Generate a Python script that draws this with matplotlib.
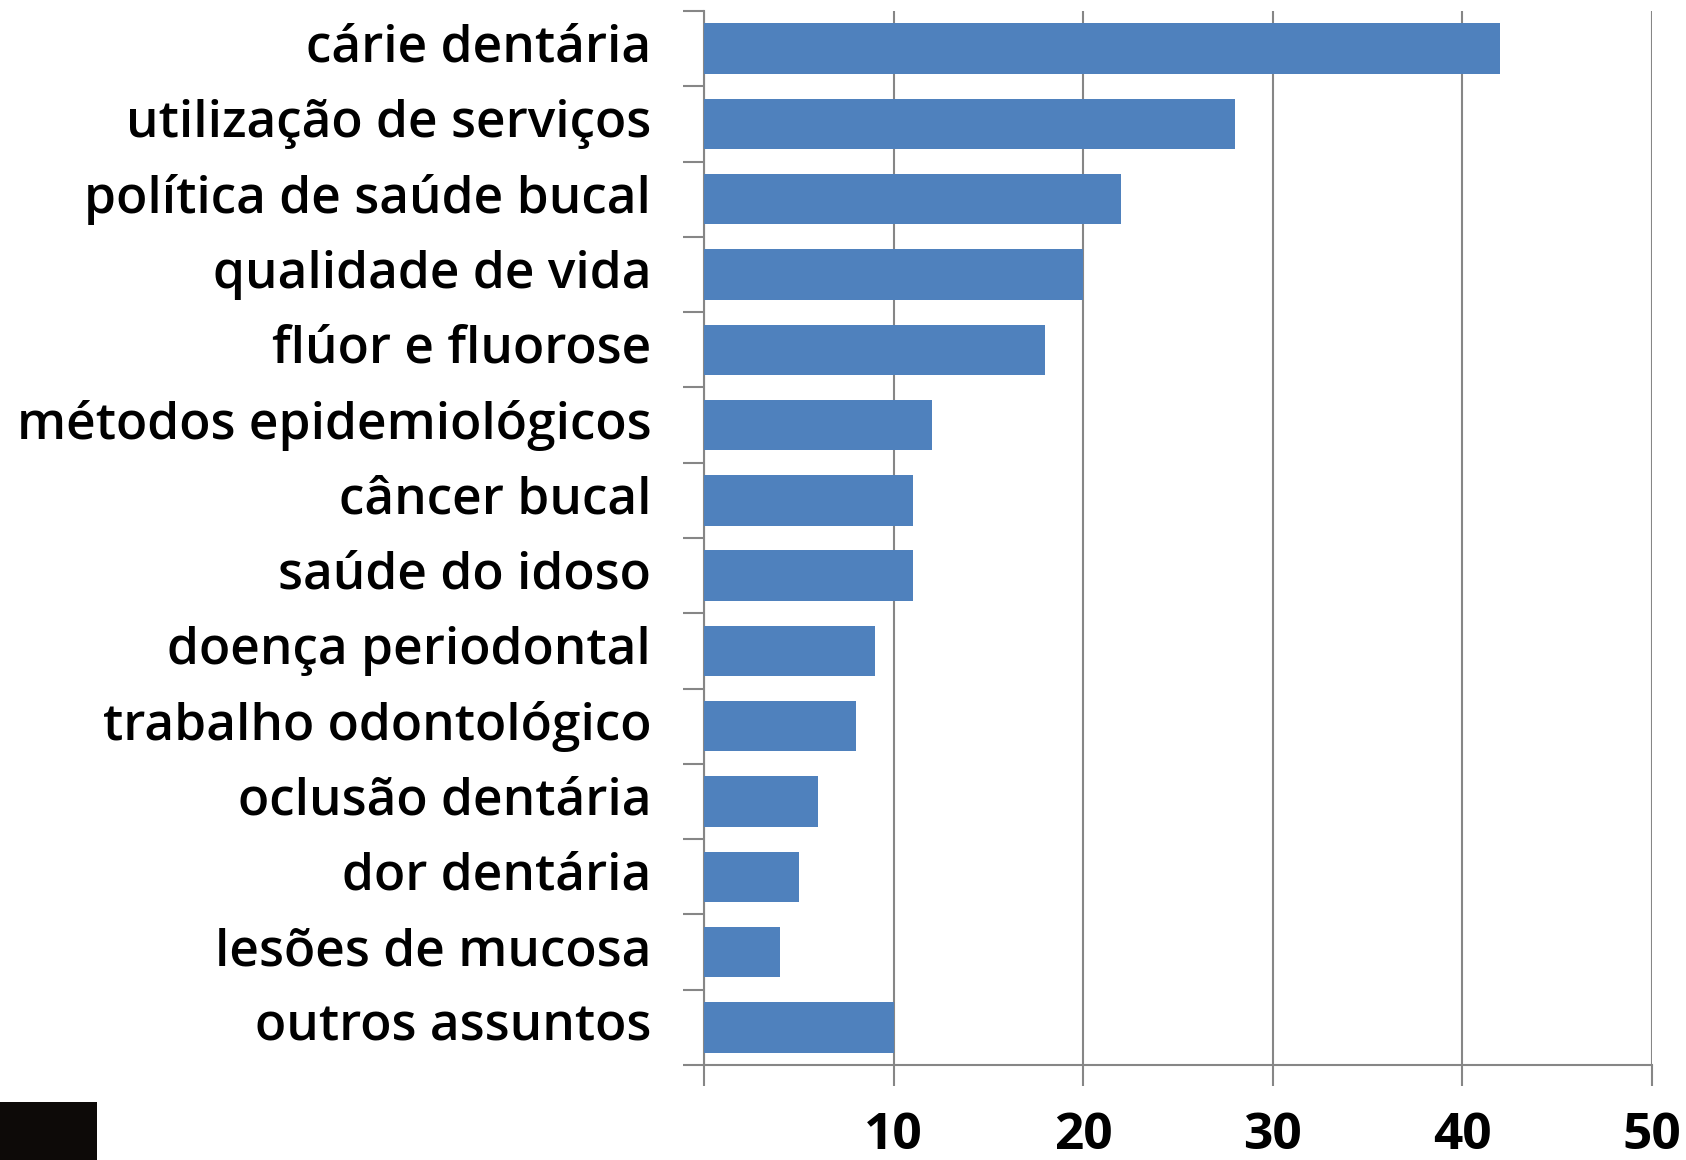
import matplotlib
matplotlib.use("Agg")
import matplotlib.pyplot as plt
from matplotlib.patches import Rectangle

categories = ["cárie dentária", "utilização de serviços", "política de saúde bucal",
              "qualidade de vida", "flúor e fluorose", "métodos epidemiológicos",
              "câncer bucal", "saúde do idoso", "doença periodontal",
              "trabalho odontológico", "oclusão dentária", "dor dentária",
              "lesões de mucosa", "outros assuntos"]
values = [42, 28, 22, 20, 18, 12, 11, 11, 9, 8, 6, 5, 4, 10]
xticks = [0, 10, 20, 30, 40, 50]
xticklabels = ["", "10", "20", "30", "40", "50"]

DPI = 100
fig = plt.figure(figsize=(16.86, 11.6), dpi=DPI)
ax = fig.add_axes([704/1686, 1 - 1065/1160, (1652-704)/1686, (1065-11)/1160])

n = len(categories)
ypos = list(range(n))
ax.barh(ypos, values, height=0.67, color="#4F81BD", zorder=3)
ax.set_ylim(n - 0.5, -0.5)
ax.set_xlim(0, 50)

grid_c = "#868686"
ax.set_xticks(xticks)
ax.set_xticklabels(xticklabels)
ax.xaxis.grid(True, color=grid_c, linewidth=1.5, zorder=1)
ax.tick_params(axis="x", direction="out", length=15, width=1.5, color=grid_c,
               pad=18, labelsize=37)
for lbl in ax.get_xticklabels():
    lbl.set_fontweight("bold")
    lbl.set_family("Open Sans")

ax.set_yticks(ypos)
ax.set_yticklabels(categories)
ax.tick_params(axis="y", which="major", length=0, pad=38, labelsize=37)
for lbl in ax.get_yticklabels():
    lbl.set_fontweight("semibold")
    lbl.set_family("Open Sans")
    lbl.set_verticalalignment("center")
ax.set_yticks([i - 0.5 for i in range(n + 1)], minor=True)
ax.tick_params(axis="y", which="minor", direction="out", length=15, width=1.5, color=grid_c)

for s in ["top", "right"]:
    ax.spines[s].set_visible(False)
for s in ["left", "bottom"]:
    ax.spines[s].set_color(grid_c)
    ax.spines[s].set_linewidth(1.5)

fig.patches.append(Rectangle((0, 0), 97/1686, 58/1160, transform=fig.transFigure,
                             facecolor="#0d0a08", edgecolor="none"))

fig.savefig("out.png", dpi=DPI)
